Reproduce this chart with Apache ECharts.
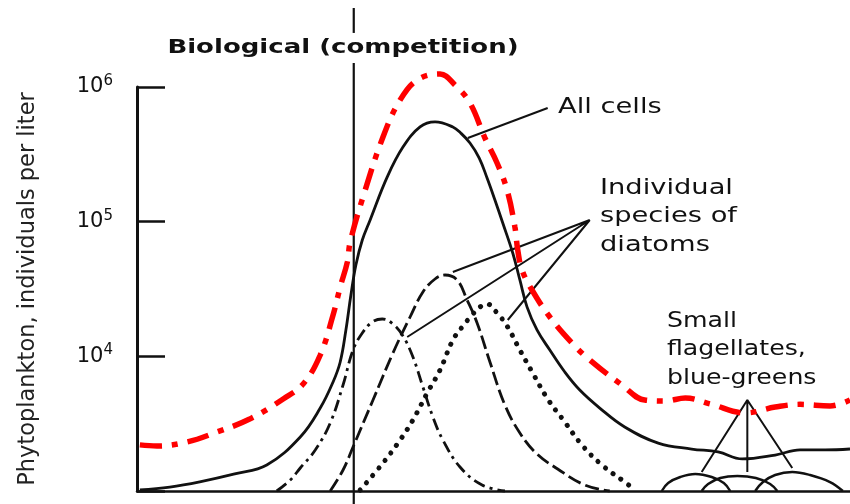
<!DOCTYPE html>
<html><head><meta charset="utf-8">
<script src="https://cdn.jsdelivr.net/npm/echarts@6/dist/echarts.min.js"></script>
<style>html,body{margin:0;padding:0;background:#fff}#c{width:850px;height:504px}</style>
</head><body><div id="c"></div>
<script>
// x: arbitrary time units (0-100); y: phytoplankton, individuals per liter (log scale)
const yTickExponents = [4, 5, 6];
const yAxisName = 'Phytoplankton, individuals per liter';
const titleText = 'Biological (competition)';
const labelAllCells = 'All cells';
const labelDiatoms = 'Individual\nspecies of\ndiatoms';
const labelSmall = 'Small\nflagellates,\nblue-greens';

const competitionStart = 30.4;
const dividerTop = [[competitionStart, 3860000], [competitionStart, 2520000]];
const dividerBottom = [[competitionStart, 1510000], [competitionStart, 800]];

const allCells = [[0.4,1020],[4.6,1070],[8.8,1170],[13.7,1340],[18.2,1560],[22.9,2520],[25.7,4130],[27.5,6450],[28.5,9080],[29.3,15690],[30.0,28530],[30.7,47680],[31.6,73080],[32.7,103000],[35.1,215000],[37.3,358000],[39.7,505000],[41.8,550000],[44.3,505000],[45.4,455300],[46.7,384000],[48.0,296900],[49.1,210900],[50.2,144800],[51.3,97700],[52.7,58500],[53.7,36900],[54.7,23300],[56.1,15700],[57.9,11140],[60.0,7650],[62.1,5620],[64.9,4130],[68.4,2990],[73.1,2270],[77.8,2050],[81.5,1950],[84.9,1730],[89.5,1850],[93.0,2020],[96.5,2020],[100,2050]];

const envelope = [[0.4,2200],[2.8,2160],[7.0,2310],[11.2,2740],[15.8,3420],[20.5,4820],[23.3,6230],[25.7,10230],[27.5,20270],[28.5,32710],[29.5,50180],[29.9,70630],[31.7,152500],[34.5,425300],[36.9,800600],[39.3,1127000],[42.5,1249000],[44.6,1035000],[46.7,760700],[48.8,418100],[50.5,272700],[51.9,171900],[53.0,91280],[53.4,61610],[54.0,43770],[55.4,31090],[57.9,19590],[61.0,12560],[63.5,9390],[68.0,6130],[71.2,4740],[74.1,4660],[76.9,4900],[80.4,4430],[85.3,3800],[89.5,4200],[93.0,4400],[97.2,4280],[100,4740]];

const diatomA = [[19.6,1000],[21.5,1207],[22.9,1482],[25.0,2016],[27.1,3198],[28.9,6126],[30.3,11140],[31.6,14900],[33.0,17980],[34.4,18930],[35.9,17390],[37.3,14160],[38.7,9886],[40.1,5921],[41.5,3544],[42.9,2391],[45.3,1507],[48.4,1108],[51.6,1000]];

const diatomB = [[27.1,1000],[28.9,1432],[30.3,2122],[33.1,4740],[35.9,10590],[38.3,19590],[40.1,30050],[41.8,37520],[43.2,40170],[44.9,36880],[46.3,26200],[47.7,17680],[49.5,9077],[51.6,4351],[53.7,2696],[56.1,1883],[59.0,1457],[62.8,1108],[66.3,1000]];

const diatomC = [[31.3,1017],[34.5,1614],[36.9,2391],[38.7,3366],[40.7,5342],[42.5,7914],[44.3,13220],[45.6,16510],[47.0,20270],[48.1,23250],[49.1,24470],[50.5,20980],[51.9,16800],[53.7,11140],[55.5,7518],[57.6,4822],[60.0,3254],[62.4,2196],[65.2,1560],[68.4,1166],[69.8,1020]];

const flagA = [[73.6,1000],[74.5,1147],[76.2,1270],[78.3,1337],[80.6,1270],[82.3,1147],[83.2,1000]];
const flagB = [[79.2,1000],[80.1,1127],[81.8,1249],[84.2,1292],[86.8,1249],[88.8,1127],[89.8,1000]];
const flagC = [[86.7,1000],[87.8,1166],[89.5,1315],[91.9,1384],[94.4,1315],[97.2,1166],[99.0,1000]];

const pointerAllCells = [[46.4,418000],[57.6,698000]];
const pointerDiatoms = [[63.5,102900],[44.3,42290],[63.5,102900],[37.9,13910],[63.5,102900],[52.0,18610]];
const pointerSmall = [[85.6,4740],[79.2,1384],[85.6,4740],[85.6,1384],[85.6,4740],[91.9,1482]];

const chart = echarts.init(document.getElementById('c'), null, {renderer: 'canvas'});
const black = '#111';
function curve(name, data, type, width, extra) {
  return Object.assign({
    name: name, type: 'line', data: data, symbol: 'none', smooth: 0.4, clip: false,
    lineStyle: {color: black, width: width, type: type}, silent: true
  }, extra || {});
}
function straight(name, data, width) {
  return {name: name, type: 'line', data: data, symbol: 'none', smooth: false, clip: false,
    lineStyle: {color: black, width: width}, silent: true};
}
chart.setOption({
  animation: false,
  backgroundColor: '#fff',
  grid: {left: 137, right: 0, top: 87, bottom: 13, outerBoundsMode: 'none', containLabel: false},
  xAxis: {type: 'value', min: 0, max: 100,
    axisLine: {show: true, onZero: false, lineStyle: {color: black, width: 2.5}},
    axisTick: {show: false}, axisLabel: {show: false}, splitLine: {show: false}},
  yAxis: {type: 'log', logBase: 10, min: 1000, max: 1000000,
    name: yAxisName, nameLocation: 'middle', nameRotate: 90, nameGap: 97,
    nameTextStyle: {fontFamily: 'DejaVu Sans', fontSize: 22.5, color: '#222'},
    axisLine: {show: true, lineStyle: {color: black, width: 3}},
    axisTick: {show: true, inside: true, length: 28, lineStyle: {color: black, width: 2.5}},
    axisLabel: {margin: 24,
      formatter: function (v) {
        const e = Math.round(Math.log10(v));
        return yTickExponents.indexOf(e) >= 0 ? '{b|10}{s|' + e + '}' : '';
      },
      rich: {
        b: {fontFamily: 'DejaVu Sans', fontSize: 21, color: black},
        s: {fontFamily: 'DejaVu Sans', fontSize: 15, color: black, padding: [0, 0, 12, 0]}
      }},
    splitLine: {show: false}},
  graphic: [
    {type: 'text', x: 343, y: 48, scaleX: 1.3, z: 10,
      style: {text: titleText, fontFamily: 'DejaVu Sans', fontSize: 20, fontWeight: 'bold', fill: black,
        align: 'center', verticalAlign: 'middle', textAlign: 'center', textVerticalAlign: 'middle'}},
    {type: 'text', x: 558, y: 108, scaleX: 1.3,
      style: {text: labelAllCells, fontFamily: 'DejaVu Sans', fontSize: 21, fill: black,
        align: 'left', verticalAlign: 'middle', textAlign: 'left', textVerticalAlign: 'middle'}},
    {type: 'text', x: 600, y: 174, scaleX: 1.3,
      style: {text: labelDiatoms, fontFamily: 'DejaVu Sans', fontSize: 21, lineHeight: 28.5, fill: black,
        align: 'left', verticalAlign: 'top', textAlign: 'left', textVerticalAlign: 'top'}},
    {type: 'text', x: 667, y: 307, scaleX: 1.2,
      style: {text: labelSmall, fontFamily: 'DejaVu Sans', fontSize: 21, lineHeight: 28.5, fill: black,
        align: 'left', verticalAlign: 'top', textAlign: 'left', textVerticalAlign: 'top'}}
  ],
  series: [
    straight('divider-top', dividerTop, 2.2),
    straight('divider-bottom', dividerBottom, 2.2),
    curve('All cells', allCells, 'solid', 2.8),
    curve('Diatom species 1', diatomA, [12, 5, 3, 5], 2.8),
    curve('Diatom species 2', diatomB, [14, 5], 2.8),
    curve('Diatom species 3', diatomC, [0.1, 9.5], 5, {lineStyle: {color: black, width: 5, type: [0.1, 9.5], cap: 'round'}}),
    curve('Flagellates 1', flagA, 'solid', 2.5),
    curve('Flagellates 2', flagB, 'solid', 2.5),
    curve('Flagellates 3', flagC, 'solid', 2.5),
    straight('pointer all cells', pointerAllCells, 2),
    straight('pointer diatoms', pointerDiatoms, 2),
    straight('pointer small', pointerSmall, 2),
    curve('Envelope', envelope, [22, 10, 6, 10], 5.5, {z: 5, lineStyle: {color: '#ff0000', width: 5.5, type: [22, 10, 6, 10]}})
  ]
});
</script>
</body></html>
